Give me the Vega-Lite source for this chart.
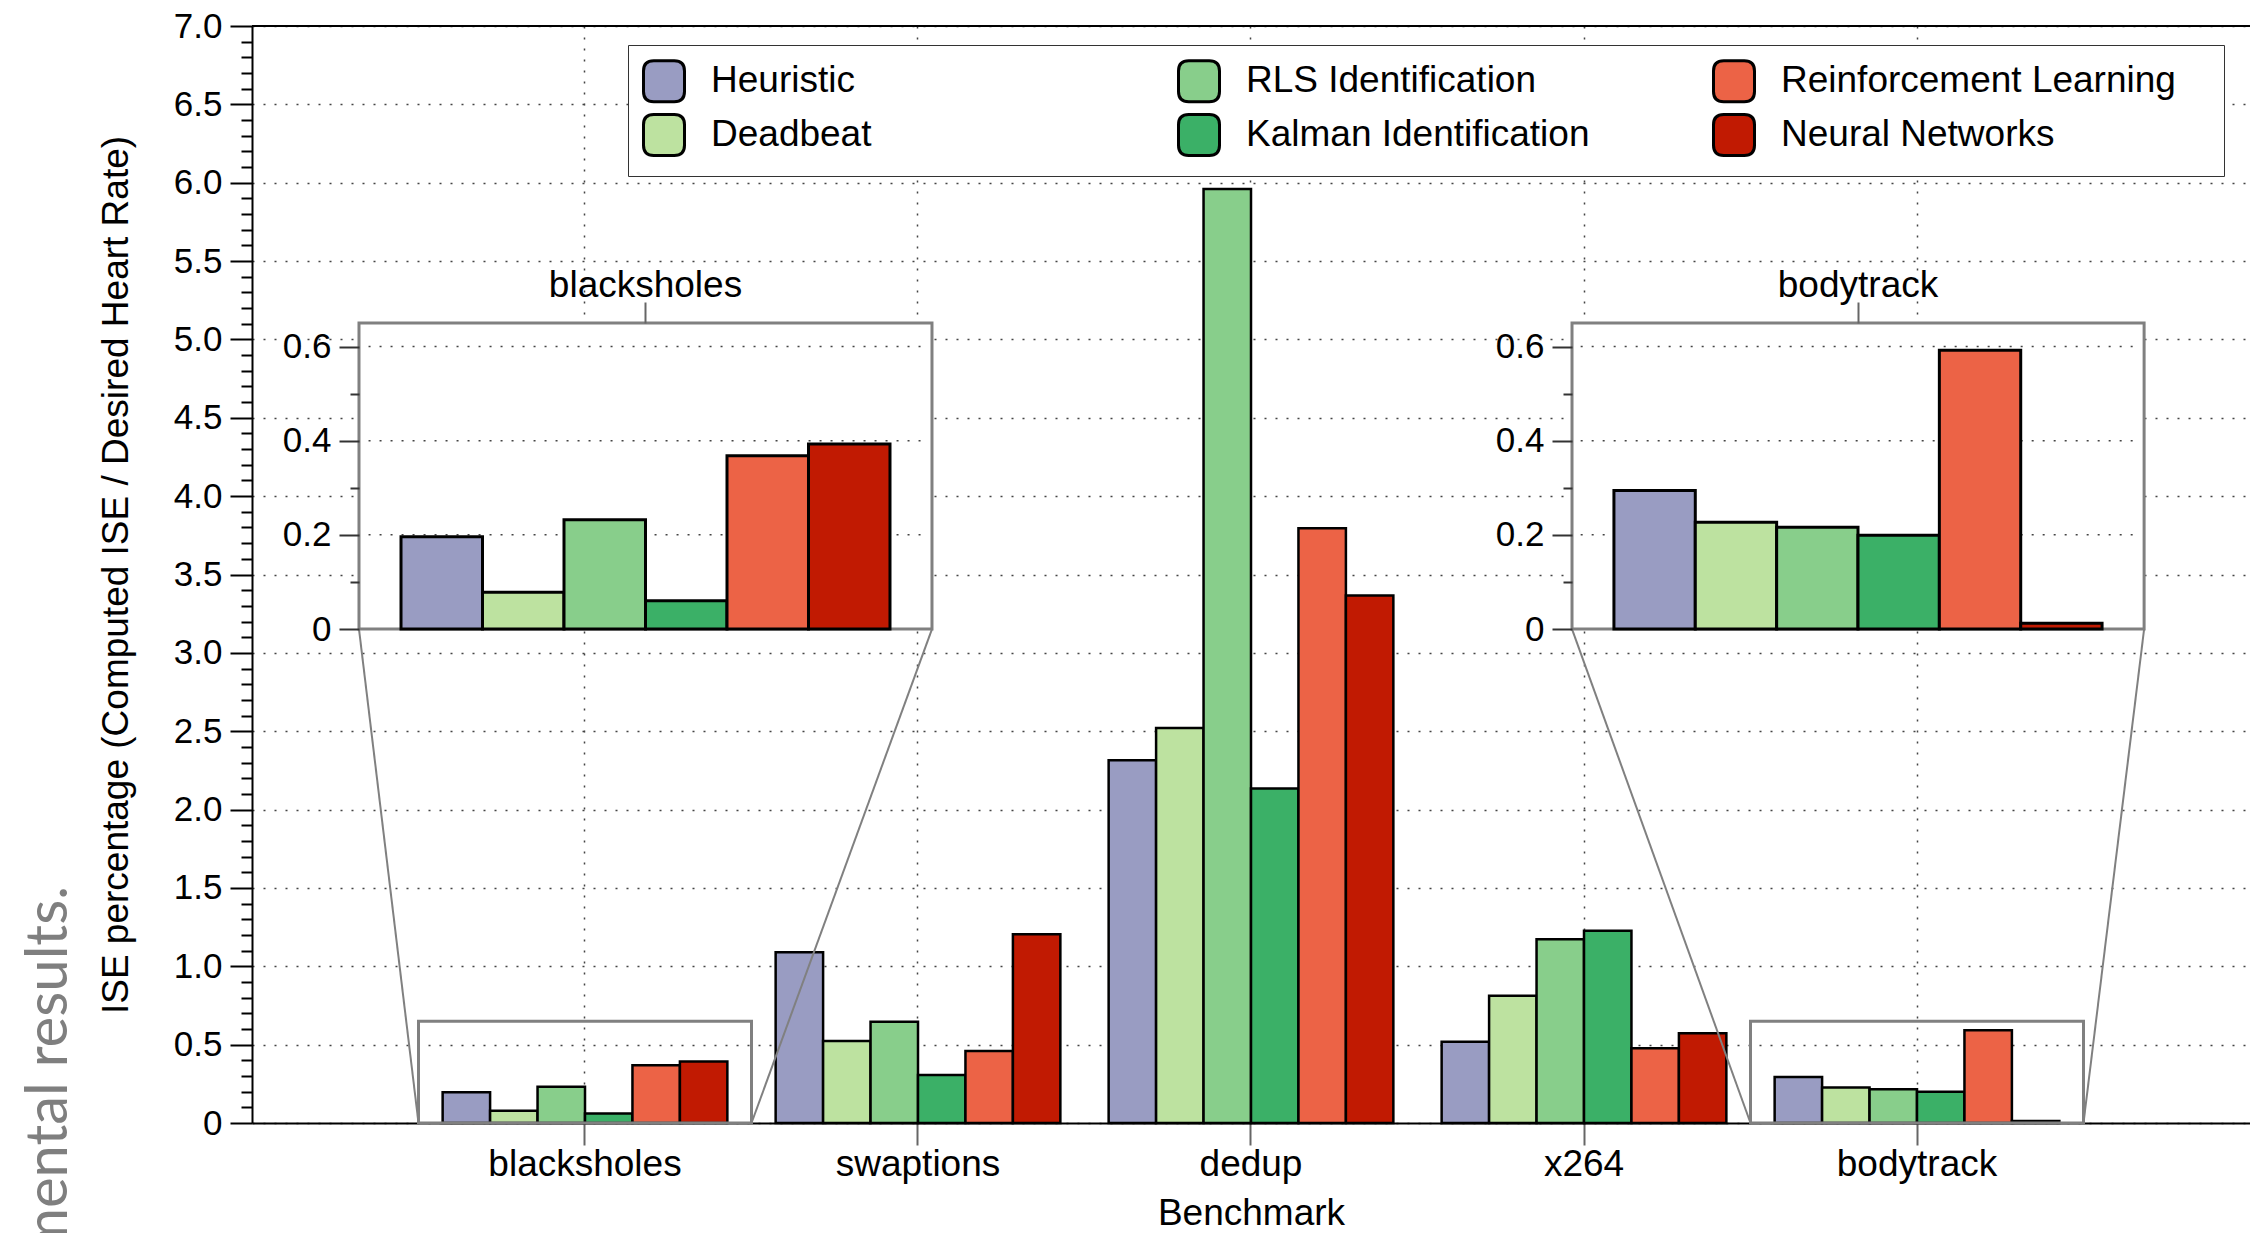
{
  "$schema": "https://vega.github.io/schema/vega-lite/v6.json",
  "width": 1998,
  "height": 1097,
  "autosize": "none",
  "padding": {"left": 252, "top": 26, "right": 0, "bottom": 110},
  "background": "white",
  "config": {
    "view": {"stroke": null},
    "font": "Liberation Sans",
    "axis": {"labelFont": "Liberation Sans", "titleFont": "Liberation Sans", "labelColor": "black", "titleColor": "black", "titleFontWeight": "normal", "labelFontSize": 35, "titleFontSize": 37, "labelLimit": 0}
  },
  "datasets": {
    "ise": [
      {"benchmark": "blacksholes", "method": "Heuristic", "value": 0.196},
      {"benchmark": "blacksholes", "method": "Deadbeat", "value": 0.078},
      {"benchmark": "blacksholes", "method": "RLS Identification", "value": 0.232},
      {"benchmark": "blacksholes", "method": "Kalman Identification", "value": 0.060},
      {"benchmark": "blacksholes", "method": "Reinforcement Learning", "value": 0.368},
      {"benchmark": "blacksholes", "method": "Neural Networks", "value": 0.393},
      {"benchmark": "swaptions", "method": "Heuristic", "value": 1.09},
      {"benchmark": "swaptions", "method": "Deadbeat", "value": 0.523},
      {"benchmark": "swaptions", "method": "RLS Identification", "value": 0.646},
      {"benchmark": "swaptions", "method": "Kalman Identification", "value": 0.306},
      {"benchmark": "swaptions", "method": "Reinforcement Learning", "value": 0.459},
      {"benchmark": "swaptions", "method": "Neural Networks", "value": 1.204},
      {"benchmark": "dedup", "method": "Heuristic", "value": 2.315},
      {"benchmark": "dedup", "method": "Deadbeat", "value": 2.52},
      {"benchmark": "dedup", "method": "RLS Identification", "value": 5.96},
      {"benchmark": "dedup", "method": "Kalman Identification", "value": 2.135},
      {"benchmark": "dedup", "method": "Reinforcement Learning", "value": 3.795},
      {"benchmark": "dedup", "method": "Neural Networks", "value": 3.366},
      {"benchmark": "x264", "method": "Heuristic", "value": 0.519},
      {"benchmark": "x264", "method": "Deadbeat", "value": 0.812},
      {"benchmark": "x264", "method": "RLS Identification", "value": 1.172},
      {"benchmark": "x264", "method": "Kalman Identification", "value": 1.227},
      {"benchmark": "x264", "method": "Reinforcement Learning", "value": 0.477},
      {"benchmark": "x264", "method": "Neural Networks", "value": 0.572},
      {"benchmark": "bodytrack", "method": "Heuristic", "value": 0.294},
      {"benchmark": "bodytrack", "method": "Deadbeat", "value": 0.227},
      {"benchmark": "bodytrack", "method": "RLS Identification", "value": 0.216},
      {"benchmark": "bodytrack", "method": "Kalman Identification", "value": 0.199},
      {"benchmark": "bodytrack", "method": "Reinforcement Learning", "value": 0.592},
      {"benchmark": "bodytrack", "method": "Neural Networks", "value": 0.012}
    ]
  },
  "data": {"name": "ise"},
  "resolve": {"scale": {"x": "independent", "y": "independent", "xOffset": "independent"}},
  "layer": [
    {
      "mark": {"type": "bar", "stroke": "black", "strokeWidth": 2.5},
      "encoding": {
        "x": {"field": "benchmark", "type": "nominal",
          "scale": {"domain": ["blacksholes", "swaptions", "dedup", "x264", "bodytrack"], "paddingInner": 0.145, "paddingOuter": 0.5725},
          "axis": {"orient": "bottom", "title": "Benchmark", "labelAngle": 0, "labelFontSize": 37, "labelPadding": 1, "labelLimit": 0, "tickSize": 22, "tickColor": "#666666", "tickWidth": 2, "domainColor": "black", "domainWidth": 2, "grid": true, "gridDash": [2, 9], "gridColor": "#444444", "gridWidth": 1.5, "titlePadding": 13}},
        "xOffset": {"field": "method", "type": "nominal",
          "scale": {"domain": ["Heuristic", "Deadbeat", "RLS Identification", "Kalman Identification", "Reinforcement Learning", "Neural Networks"], "paddingInner": 0, "paddingOuter": 0}},
        "y": {"field": "value", "type": "quantitative",
          "scale": {"domain": [0, 7], "nice": false},
          "axis": {"orient": "left", "title": "ISE percentage (Computed ISE / Desired Heart Rate)", "values": [0, 0.5, 1, 1.5, 2, 2.5, 3, 3.5, 4, 4.5, 5, 5.5, 6, 6.5, 7], "labelExpr": "datum.value == 0 ? '0' : format(datum.value, '.1f')", "tickSize": 22, "tickColor": "black", "tickWidth": 2, "domainColor": "black", "domainWidth": 2, "grid": true, "gridDash": [2, 9], "gridColor": "#444444", "gridWidth": 1.5, "labelPadding": 8, "titlePadding": 38}},
        "color": {"field": "method", "type": "nominal", "title": null,
          "scale": {"domain": ["Heuristic", "RLS Identification", "Reinforcement Learning", "Deadbeat", "Kalman Identification", "Neural Networks"], "range": ["#999cc2", "#88ce8b", "#ec6346", "#bde2a0", "#3bb067", "#c11a02"]},
          "legend": {"orient": "none", "legendX": 376, "legendY": 19, "direction": "horizontal", "columns": 3, "gridAlign": "all", "columnPadding": 66, "rowPadding": 0, "padding": 14, "fillColor": "white", "strokeColor": "#333333", "title": "\u2003", "titleOrient": "right", "titleFontSize": 30, "titlePadding": 34, "symbolType": "M -0.5,-1 L 0.5,-1 Q 1,-1 1,-0.5 L 1,0.5 Q 1,1 0.5,1 L -0.5,1 Q -1,1 -1,0.5 L -1,-0.5 Q -1,-1 -0.5,-1 Z", "symbolSize": 1681, "symbolStrokeColor": "black", "symbolStrokeWidth": 3, "labelFontSize": 37, "labelFont": "Liberation Sans", "labelOffset": 25, "labelLimit": 0, "labelColor": "black"}}
      }
    },
    {
      "data": {"values": [{}]},
      "mark": {"type": "rule", "color": "black", "strokeWidth": 2},
      "encoding": {
        "y": {"datum": 7, "type": "quantitative", "scale": {"domain": [0, 7], "nice": false},
          "axis": {"orient": "left", "values": [0.1, 0.2, 0.3, 0.4, 0.6, 0.7, 0.8, 0.9, 1.1, 1.2, 1.3, 1.4, 1.6, 1.7, 1.8, 1.9, 2.1, 2.2, 2.3, 2.4, 2.6, 2.7, 2.8, 2.9, 3.1, 3.2, 3.3, 3.4, 3.6, 3.7, 3.8, 3.9, 4.1, 4.2, 4.3, 4.4, 4.6, 4.7, 4.8, 4.9, 5.1, 5.2, 5.3, 5.4, 5.6, 5.7, 5.8, 5.9, 6.1, 6.2, 6.3, 6.4, 6.6, 6.7, 6.8, 6.9], "labels": false, "tickSize": 11, "tickColor": "black", "tickWidth": 2, "domain": false, "grid": false, "title": null}}
      }
    },
    {
      "data": {"values": [{"benchmark": "blacksholes"}, {"benchmark": "bodytrack"}]},
      "mark": {"type": "rect", "fill": "transparent", "stroke": "#808080", "strokeWidth": 3},
      "encoding": {
        "x": {"field": "benchmark", "type": "nominal", "scale": {"domain": ["blacksholes", "swaptions", "dedup", "x264", "bodytrack"], "paddingInner": 0, "paddingOuter": 0.5}, "axis": null},
        "y": {"datum": 0, "type": "quantitative", "scale": {"domain": [0, 7], "nice": false}, "axis": null},
        "y2": {"datum": 0.65}
      }
    },
    {
      "data": {"values": [{}]},
      "mark": {"type": "rule", "color": "#808080", "strokeWidth": 2},
      "encoding": {
        "x": {"datum": 0.3213, "type": "quantitative", "scale": {"domain": [0, 6], "nice": false, "zero": false}, "axis": null},
        "x2": {"datum": 0.5},
        "y": {"datum": 3.152, "type": "quantitative", "scale": {"domain": [0, 7], "nice": false}, "axis": null},
        "y2": {"datum": 0}
      }
    },
    {
      "data": {"values": [{}]},
      "mark": {"type": "rule", "color": "#808080", "strokeWidth": 2},
      "encoding": {
        "x": {"datum": 2.042, "type": "quantitative", "scale": {"domain": [0, 6], "nice": false, "zero": false}, "axis": null},
        "x2": {"datum": 1.5},
        "y": {"datum": 3.152, "type": "quantitative", "scale": {"domain": [0, 7], "nice": false}, "axis": null},
        "y2": {"datum": 0}
      }
    },
    {
      "data": {"values": [{}]},
      "mark": {"type": "rule", "color": "#808080", "strokeWidth": 2},
      "encoding": {
        "x": {"datum": 3.964, "type": "quantitative", "scale": {"domain": [0, 6], "nice": false, "zero": false}, "axis": null},
        "x2": {"datum": 4.5},
        "y": {"datum": 3.152, "type": "quantitative", "scale": {"domain": [0, 7], "nice": false}, "axis": null},
        "y2": {"datum": 0}
      }
    },
    {
      "data": {"values": [{}]},
      "mark": {"type": "rule", "color": "#808080", "strokeWidth": 2},
      "encoding": {
        "x": {"datum": 5.682, "type": "quantitative", "scale": {"domain": [0, 6], "nice": false, "zero": false}, "axis": null},
        "x2": {"datum": 5.5},
        "y": {"datum": 3.152, "type": "quantitative", "scale": {"domain": [0, 7], "nice": false}, "axis": null},
        "y2": {"datum": 0}
      }
    },
    {
      "data": {"values": [{}]},
      "mark": {"type": "rect", "fill": "white", "stroke": "#808080", "strokeWidth": 3},
      "encoding": {
        "x": {"datum": 0.3213, "type": "quantitative", "scale": {"domain": [0, 6], "nice": false, "zero": false}, "axis": null},
        "x2": {"datum": 2.042},
        "y": {"datum": 3.152, "type": "quantitative", "scale": {"domain": [0, 7], "nice": false}, "axis": null},
        "y2": {"datum": 5.105}
      }
    },
    {
      "data": {"values": [{"g": 0.2}, {"g": 0.4}, {"g": 0.6}]},
      "mark": {"type": "rule", "color": "#444444", "strokeWidth": 1.5, "strokeDash": [2, 9]},
      "encoding": {
        "x": {"datum": 0.35, "type": "quantitative", "scale": {"domain": [0, 6], "nice": false, "zero": false}, "axis": null},
        "x2": {"datum": 2.03},
        "y": {"field": "g", "type": "quantitative", "scale": {"domain": [0, 0.65], "range": [603, 297], "nice": false},
          "axis": {"orient": "left", "offset": -107, "values": [0.1, 0.3, 0.5], "labels": false, "tickSize": 9, "tickColor": "#333333", "tickWidth": 2, "domain": false, "grid": false, "title": null, "zindex": 1}}
      }
    },
    {
      "transform": [{"filter": "datum.benchmark == 'blacksholes'"}],
      "mark": {"type": "bar", "stroke": "black", "strokeWidth": 3},
      "encoding": {
        "x": {"field": "benchmark", "type": "nominal",
          "scale": {"domain": ["blacksholes"], "range": [107, 680], "paddingInner": 0, "paddingOuter": 0.0859},
          "axis": {"orient": "top", "offset": -297, "title": null, "labelAngle": 0, "labelFontSize": 37, "labelLimit": 0, "tickSize": 21, "tickColor": "#666666", "tickWidth": 2, "domain": false, "grid": false, "labelPadding": -2, "zindex": 1}},
        "xOffset": {"field": "method", "type": "nominal",
          "scale": {"domain": ["Heuristic", "Deadbeat", "RLS Identification", "Kalman Identification", "Reinforcement Learning", "Neural Networks"], "paddingInner": 0, "paddingOuter": 0}},
        "y": {"field": "value", "type": "quantitative",
          "scale": {"domain": [0, 0.65], "range": [603, 297], "nice": false},
          "axis": {"orient": "left", "offset": -107, "values": [0, 0.2, 0.4, 0.6], "labelExpr": "datum.value == 0 ? '0' : format(datum.value, '.1f')", "tickSize": 20, "tickColor": "#333333", "tickWidth": 2, "domain": false, "grid": false, "title": null, "labelPadding": 8, "zindex": 1}},
        "color": {"field": "method", "type": "nominal", "title": null,
          "scale": {"domain": ["Heuristic", "RLS Identification", "Reinforcement Learning", "Deadbeat", "Kalman Identification", "Neural Networks"], "range": ["#999cc2", "#88ce8b", "#ec6346", "#bde2a0", "#3bb067", "#c11a02"]},
          "legend": {"orient": "none", "legendX": 376, "legendY": 19, "direction": "horizontal", "columns": 3, "gridAlign": "all", "columnPadding": 66, "rowPadding": 0, "padding": 14, "fillColor": "white", "strokeColor": "#333333", "title": "\u2003", "titleOrient": "right", "titleFontSize": 30, "titlePadding": 34, "symbolType": "M -0.5,-1 L 0.5,-1 Q 1,-1 1,-0.5 L 1,0.5 Q 1,1 0.5,1 L -0.5,1 Q -1,1 -1,0.5 L -1,-0.5 Q -1,-1 -0.5,-1 Z", "symbolSize": 1681, "symbolStrokeColor": "black", "symbolStrokeWidth": 3, "labelFontSize": 37, "labelFont": "Liberation Sans", "labelOffset": 25, "labelLimit": 0, "labelColor": "black"}}
      }
    },
    {
      "data": {"values": [{}]},
      "mark": {"type": "rect", "fill": "white", "stroke": "#808080", "strokeWidth": 3},
      "encoding": {
        "x": {"datum": 3.964, "type": "quantitative", "scale": {"domain": [0, 6], "nice": false, "zero": false}, "axis": null},
        "x2": {"datum": 5.682},
        "y": {"datum": 3.152, "type": "quantitative", "scale": {"domain": [0, 7], "nice": false}, "axis": null},
        "y2": {"datum": 5.105}
      }
    },
    {
      "data": {"values": [{"g": 0.2}, {"g": 0.4}, {"g": 0.6}]},
      "mark": {"type": "rule", "color": "#444444", "strokeWidth": 1.5, "strokeDash": [2, 9]},
      "encoding": {
        "x": {"datum": 3.99, "type": "quantitative", "scale": {"domain": [0, 6], "nice": false, "zero": false}, "axis": null},
        "x2": {"datum": 5.665},
        "y": {"field": "g", "type": "quantitative", "scale": {"domain": [0, 0.65], "range": [603, 297], "nice": false},
          "axis": {"orient": "left", "offset": -1320, "values": [0.1, 0.3, 0.5], "labels": false, "tickSize": 9, "tickColor": "#333333", "tickWidth": 2, "domain": false, "grid": false, "title": null, "zindex": 1}}
      }
    },
    {
      "transform": [{"filter": "datum.benchmark == 'bodytrack'"}],
      "mark": {"type": "bar", "stroke": "black", "strokeWidth": 3},
      "encoding": {
        "x": {"field": "benchmark", "type": "nominal",
          "scale": {"domain": ["bodytrack"], "range": [1320, 1892], "paddingInner": 0, "paddingOuter": 0.0859},
          "axis": {"orient": "top", "offset": -297, "title": null, "labelAngle": 0, "labelFontSize": 37, "labelLimit": 0, "tickSize": 21, "tickColor": "#666666", "tickWidth": 2, "domain": false, "grid": false, "labelPadding": -2, "zindex": 1}},
        "xOffset": {"field": "method", "type": "nominal",
          "scale": {"domain": ["Heuristic", "Deadbeat", "RLS Identification", "Kalman Identification", "Reinforcement Learning", "Neural Networks"], "paddingInner": 0, "paddingOuter": 0}},
        "y": {"field": "value", "type": "quantitative",
          "scale": {"domain": [0, 0.65], "range": [603, 297], "nice": false},
          "axis": {"orient": "left", "offset": -1320, "values": [0, 0.2, 0.4, 0.6], "labelExpr": "datum.value == 0 ? '0' : format(datum.value, '.1f')", "tickSize": 20, "tickColor": "#333333", "tickWidth": 2, "domain": false, "grid": false, "title": null, "labelPadding": 8, "zindex": 1}},
        "color": {"field": "method", "type": "nominal", "title": null,
          "scale": {"domain": ["Heuristic", "RLS Identification", "Reinforcement Learning", "Deadbeat", "Kalman Identification", "Neural Networks"], "range": ["#999cc2", "#88ce8b", "#ec6346", "#bde2a0", "#3bb067", "#c11a02"]},
          "legend": {"orient": "none", "legendX": 376, "legendY": 19, "direction": "horizontal", "columns": 3, "gridAlign": "all", "columnPadding": 66, "rowPadding": 0, "padding": 14, "fillColor": "white", "strokeColor": "#333333", "title": "\u2003", "titleOrient": "right", "titleFontSize": 30, "titlePadding": 34, "symbolType": "M -0.5,-1 L 0.5,-1 Q 1,-1 1,-0.5 L 1,0.5 Q 1,1 0.5,1 L -0.5,1 Q -1,1 -1,0.5 L -1,-0.5 Q -1,-1 -0.5,-1 Z", "symbolSize": 1681, "symbolStrokeColor": "black", "symbolStrokeWidth": 3, "labelFontSize": 37, "labelFont": "Liberation Sans", "labelOffset": 25, "labelLimit": 0, "labelColor": "black"}}
      }
    },
    {
      "data": {"values": [{}]},
      "mark": {"type": "text", "text": "Experimental results.", "angle": 270, "align": "right", "baseline": "alphabetic", "font": "Lato", "fontSize": 58, "color": "#7f7f7f"},
      "encoding": {
        "x": {"datum": -0.5556, "type": "quantitative", "scale": {"domain": [0, 6], "nice": false, "zero": false}, "axis": null},
        "y": {"datum": 1.512, "type": "quantitative", "scale": {"domain": [0, 7], "nice": false}, "axis": null}
      }
    }
  ]
}
